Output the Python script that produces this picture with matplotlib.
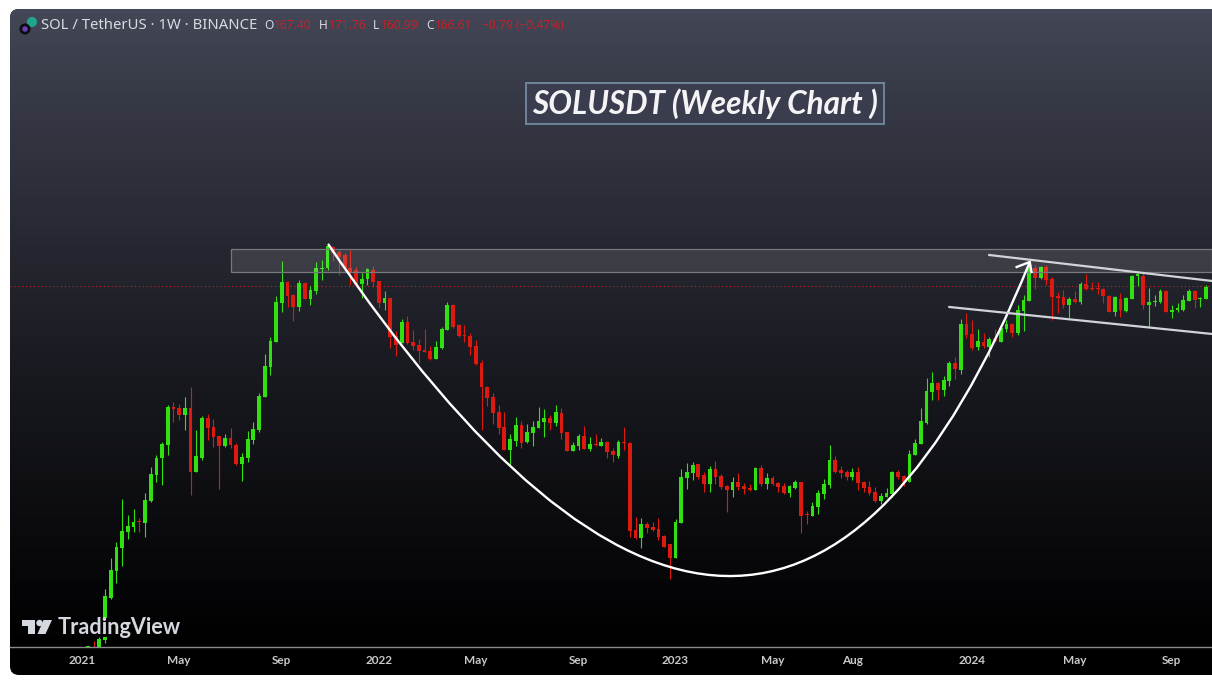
import numpy as np
import matplotlib
matplotlib.use("Agg")
import matplotlib.pyplot as plt
from matplotlib.patches import FancyBboxPatch, Rectangle, PathPatch, Polygon, Circle
from matplotlib.path import Path

plt.rcParams['font.family'] = ['Noto Sans', 'DejaVu Sans']

# weekly candles, first bar is the week after 2021-01-04
# values are read off the picture on the chart's own log scale (0 = bottom of the pane)
open_ = [0, -1, -4, 7, 49, 76, 99, 115, 120, 126, 124, 146, 172, 189, 202, 240, 239, 232, 239, 175,
         189, 229, 220, 211, 201, 209, 202, 183, 189, 207, 217, 250, 280, 305, 344, 365, 352, 340, 364, 348,
         356, 378, 379, 400, 395, 392, 379, 377, 363, 368, 377, 366, 344, 349, 311, 304, 325, 305, 302, 297,
         296, 288, 299, 317, 342, 322, 312, 311, 301, 284, 260, 250, 235, 220, 197, 206, 222, 205, 214, 219,
         225, 229, 224, 234, 215, 196, 201, 211, 198, 203, 201, 205, 196, 191, 205, 204, 117, 109, 123, 120,
         118, 111, 103, 89, 124, 169, 174, 183, 172, 163, 178, 171, 161, 157, 165, 161, 159, 157, 179, 163,
         169, 164, 161, 154, 159, 165, 133, 131, 140, 153, 162, 187, 177, 175, 170, 175, 165, 160, 155, 146,
         150, 153, 175, 171, 165, 192, 203, 224, 255, 264, 257, 266, 284, 277, 323, 313, 300, 305, 300, 309,
         305, 318, 323, 314, 336, 346, 379, 369, 380, 368, 351, 350, 342, 348, 345, 363, 359, 359, 358, 351,
         335, 348, 336, 348, 371, 371, 342, 345, 345, 356, 335, 337, 337, 346, 356, 348, 348]
close = [1, -3, 8, 51, 77, 100, 116, 121, 125, 125, 147, 173, 189, 203, 240, 238, 232, 239, 175, 191,
         229, 219, 210, 201, 209, 202, 183, 190, 208, 218, 251, 281, 306, 345, 365, 351, 340, 364, 348, 357,
         379, 379, 401, 394, 390, 379, 375, 362, 368, 378, 365, 344, 349, 310, 302, 325, 304, 301, 296, 295,
         288, 300, 318, 342, 320, 311, 311, 300, 283, 260, 249, 234, 219, 197, 208, 222, 204, 215, 220, 226,
         229, 224, 235, 214, 196, 202, 211, 198, 203, 202, 205, 195, 192, 205, 204, 116, 109, 123, 119, 117,
         110, 100, 89, 125, 170, 175, 182, 170, 163, 178, 170, 160, 157, 165, 160, 158, 157, 179, 163, 169,
         163, 160, 154, 161, 165, 131, 132, 141, 154, 163, 187, 175, 174, 170, 175, 164, 159, 154, 146, 151,
         154, 175, 170, 165, 193, 204, 226, 256, 264, 257, 267, 284, 278, 323, 312, 299, 306, 301, 308, 306,
         319, 323, 314, 337, 347, 379, 369, 380, 367, 350, 349, 342, 348, 345, 363, 358, 358, 358, 351, 335,
         350, 337, 349, 371, 373, 342, 345, 346, 356, 335, 337, 339, 347, 356, 347, 349, 360]
high = [1, 6, 10, 58, 89, 105, 148, 132, 138, 129, 154, 180, 192, 205, 242, 245, 243, 250, 260, 217,
        231, 233, 228, 211, 213, 219, 204, 194, 216, 225, 254, 293, 310, 351, 386, 366, 353, 367, 365, 361,
        385, 387, 404, 401, 397, 394, 397, 380, 374, 379, 381, 366, 356, 349, 316, 328, 331, 317, 308, 318,
        301, 306, 320, 345, 343, 323, 322, 314, 307, 287, 261, 254, 242, 235, 213, 230, 226, 223, 226, 240,
        238, 232, 242, 239, 215, 205, 213, 221, 210, 213, 209, 206, 199, 207, 220, 205, 130, 129, 125, 125,
        129, 112, 103, 128, 178, 184, 185, 183, 175, 181, 186, 173, 162, 170, 174, 164, 163, 180, 182, 174,
        171, 165, 164, 162, 167, 165, 136, 145, 157, 168, 202, 191, 181, 177, 179, 180, 166, 166, 160, 154,
        159, 176, 177, 172, 197, 208, 239, 269, 275, 265, 271, 286, 290, 328, 334, 327, 318, 314, 310, 318,
        320, 327, 324, 342, 352, 385, 382, 381, 382, 370, 355, 357, 350, 356, 365, 373, 365, 365, 359, 352,
        351, 354, 350, 372, 374, 375, 359, 352, 358, 357, 342, 344, 352, 358, 357, 350, 362]
low = [0, -5, -8, 4, 48, 64, 81, 108, 115, 115, 110, 145, 165, 162, 192, 225, 227, 217, 152, 175,
       187, 207, 200, 158, 200, 199, 182, 166, 185, 203, 215, 250, 272, 305, 335, 340, 326, 336, 348, 342,
       353, 367, 377, 386, 372, 375, 362, 360, 349, 362, 360, 339, 337, 299, 291, 304, 303, 297, 284, 295,
       287, 288, 298, 317, 319, 310, 305, 292, 282, 217, 241, 223, 213, 197, 181, 201, 199, 204, 201, 219,
       210, 217, 221, 208, 196, 196, 197, 198, 196, 201, 201, 189, 185, 189, 197, 110, 108, 99, 114, 116,
       107, 100, 68, 89, 124, 158, 167, 168, 155, 155, 163, 158, 135, 150, 157, 153, 156, 157, 161, 158,
       162, 155, 153, 150, 158, 114, 123, 131, 133, 148, 159, 174, 169, 167, 167, 157, 155, 152, 145, 143,
       150, 150, 168, 161, 165, 192, 203, 223, 247, 247, 251, 261, 268, 273, 309, 297, 297, 299, 290, 305,
       305, 315, 310, 312, 316, 346, 358, 368, 362, 327, 334, 339, 329, 344, 343, 357, 357, 353, 344, 335,
       331, 330, 335, 348, 361, 338, 320, 341, 344, 335, 329, 335, 336, 346, 339, 340, 348]

# month labels sit on the first bar of each month, weeks counted from 2021-01-04
tick_weeks = [0, 17, 35, 52, 69, 87, 104, 121, 135, 156, 174, 191]
tick_labels = ["2021", "May", "Sep", "2022", "May", "Sep", "2023", "May", "Aug", "2024", "May", "Sep"]

last_level = 361

# drawings on the chart: (week, level)
curve_x = [43.1, 120.7, 166.1]
curve_y = [403, -252, 385]
arrow_x = [163.8, 166.1, 166.4]
arrow_y = [380, 385, 375]
upper_x = [159, 198.1]
upper_y = [392, 366]
lower_x = [152, 198.1]
lower_y = [340, 313]
zone_x = [26.1, 198.1]
zone_y = [375, 398]

GREEN = "#30e010"
RED = "#dc1a10"

fig = plt.figure(figsize=(12.12, 6.93), dpi=100, facecolor="white")

# panel with the vertical gradient, in pixel coordinates
bg = fig.add_axes([0, 0, 1, 1], zorder=0)
bg.set_xlim(0, 1212)
bg.set_ylim(693, 0)
bg.axis("off")
grad = np.linspace(0, 1, 256) ** 0.8
cols = np.array([0x45, 0x48, 0x58]) * (1 - grad)[:, None] + np.array([0, 0, 1]) * grad[:, None]
im = bg.imshow(cols[:, None, :] / 255, extent=[10, 1240, 647, 9], aspect="auto", zorder=1)
panel = FancyBboxPatch((10, 9), 1230, 666, boxstyle="round,pad=0,rounding_size=9", fc="black", ec="none", zorder=0,
                       transform=bg.transData)
bg.add_patch(panel)
im.set_clip_path(panel)
bg.set_xlim(0, 1212)
bg.set_ylim(693, 0)

# candles
ax = fig.add_axes([10 / 1212, 46 / 693, 1202 / 1212, 638 / 693], zorder=1)
ax.patch.set_alpha(0)
ax.set_xlim(-12.66, 198.04)
ax.set_ylim(0, 638)

open_ = np.array(open_, dtype=float)
close = np.array(close, dtype=float)
high = np.array(high, dtype=float)
low = np.array(low, dtype=float)
weeks = np.arange(1, len(open_) + 1)
up = close >= open_
colors = [GREEN if u else RED for u in up]

ax.vlines(weeks, low, high, colors=colors, lw=0.8, zorder=2)
ax.bar(weeks, np.abs(close - open_), bottom=np.minimum(open_, close), width=0.66, color=colors, lw=0, zorder=3)

ax.axhline(last_level, color="#c8262a", lw=0.8, ls=(0, (1, 2.5)), zorder=1)

ax.add_patch(Rectangle((zone_x[0], zone_y[0]), zone_x[1] - zone_x[0], zone_y[1] - zone_y[0], fc="#ffffff", alpha=0.11,
                       ec="none", zorder=4))
ax.add_patch(Rectangle((zone_x[0], zone_y[0]), zone_x[1] - zone_x[0], zone_y[1] - zone_y[0], fc="none", ec="#77797f",
                       lw=0.9, zorder=4))

verts = list(zip(curve_x, curve_y))
ax.add_patch(PathPatch(Path(verts, [Path.MOVETO, Path.CURVE3, Path.CURVE3]), fc="none", ec="white", lw=1.7, zorder=5))
ax.plot(arrow_x, arrow_y, color="white", lw=1.7, zorder=5, solid_joinstyle="miter")
ax.plot(upper_x, upper_y, color="#d2d3da", lw=1.6, zorder=5)
ax.plot(lower_x, lower_y, color="#d2d3da", lw=1.6, zorder=5)

# time axis
for side in ["top", "left", "right"]:
    ax.spines[side].set_visible(False)
ax.spines["bottom"].set_color("#8b8b8b")
ax.spines["bottom"].set_linewidth(1.0)
ax.set_yticks([])
ax.set_xticks(tick_weeks)
ax.set_xticklabels(tick_labels, fontsize=8.5, fontweight="bold", family="Lato")
ax.tick_params(axis="x", length=0, pad=6, colors="#c9c9cc")

# overlay: legend, title box, logo
top = fig.add_axes([0, 0, 1, 1], zorder=2)
top.set_xlim(0, 1212)
top.set_ylim(693, 0)
top.axis("off")
top.patch.set_alpha(0)

top.add_patch(Circle((32, 22), 5, fc="#1fa58f", ec="none"))
top.add_patch(Circle((25, 29), 5.5, fc="#0c0c12", ec="none"))
top.add_patch(Circle((25, 29), 2.8, fc="#6a3fb0", ec="none"))

top.text(41, 25.5, "SOL / TetherUS · 1W · BINANCE", color="#d9dbe2", fontsize=10.7, va="center", ha="left")
legend_parts = [(264, "O", "#d9dbe2"), (274, "167.40", "#c42126"), (319, "H", "#d9dbe2"), (329, "171.76", "#c42126"),
                (373, "L", "#d9dbe2"), (381, "160.99", "#c42126"), (426, "C", "#d9dbe2"), (435, "166.61", "#c42126"),
                (482, "−0.79 (−0.47%)", "#c42126")]
for lx, txt, col in legend_parts:
    top.text(lx, 25.5, txt, color=col, fontsize=8.6, va="center", ha="left")

top.add_patch(Rectangle((526, 83), 358, 41, fc="#3a3d4e", ec="#6f8499", lw=1.4))
top.text(532, 103.5, "SOLUSDT (Weekly Chart )", color="#f4f4f6", fontsize=22.7, fontweight="bold", fontstyle="italic",
         va="center", ha="left", family="Lato")

# logo sits on a dark plate that hides the candles behind it
top.add_patch(Rectangle((20, 618), 162, 19, fc="#020203", ec="none"))
logo = "#d6d8e0"
top.add_patch(Polygon([(22, 620), (35, 620), (35, 634), (28, 634), (28, 626), (22, 626)], fc=logo, ec="none"))
top.add_patch(Circle((39.5, 623), 3.2, fc=logo, ec="none"))
top.add_patch(Polygon([(43.5, 620), (52, 620), (45.5, 634), (37.5, 634)], fc=logo, ec="none"))
top.text(58, 628, "TradingView", color=logo, fontsize=15.6, fontweight="bold", va="center", ha="left", family="Lato")

plt.savefig("out.png", dpi=100, facecolor="white")
